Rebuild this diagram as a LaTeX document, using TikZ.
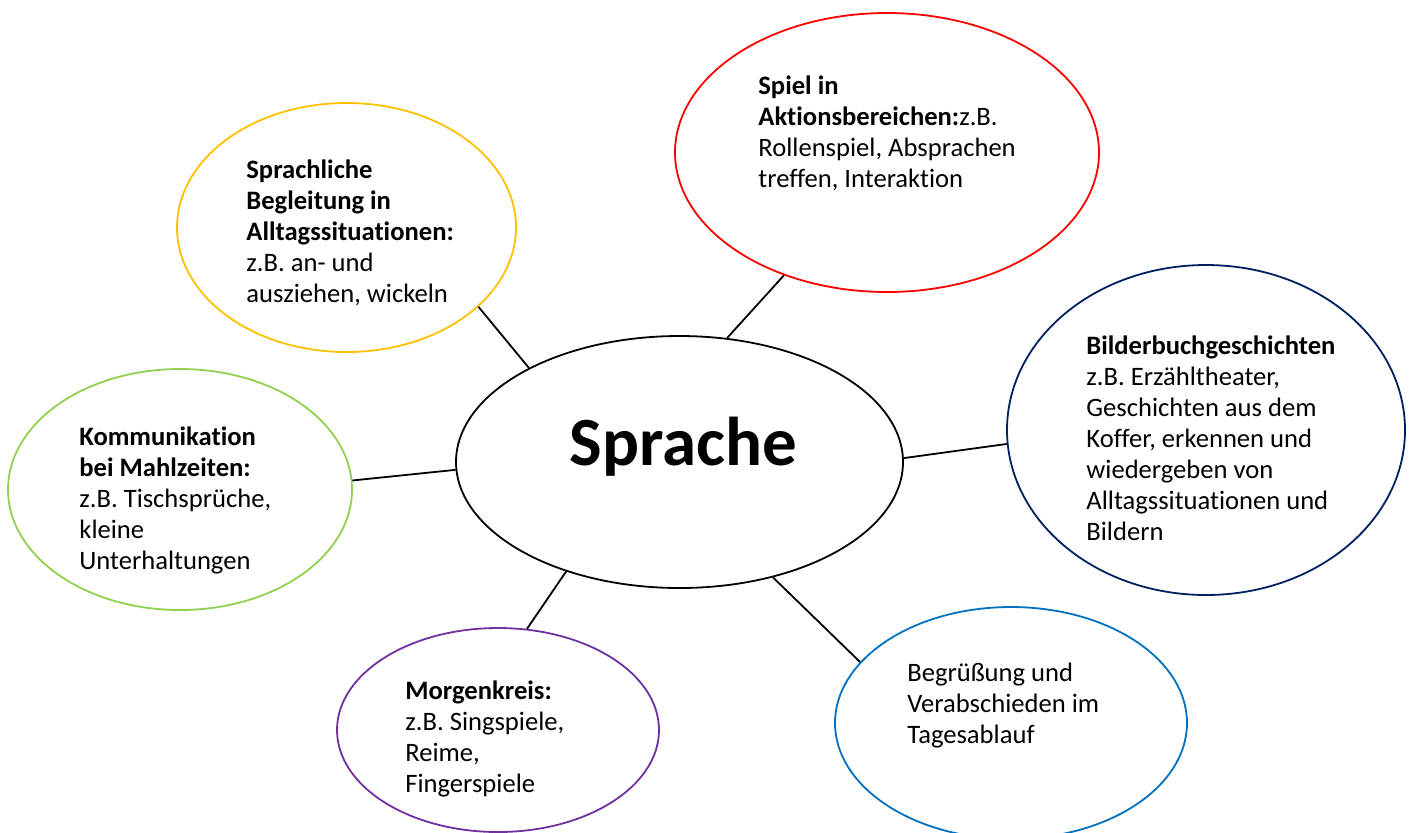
\documentclass[tikz,border=0pt]{standalone}
\usepackage{fontspec}
\setmainfont{Carlito}[Ligatures=NoCommon]
\usepackage{tikz}
\usetikzlibrary{shapes.geometric}
\definecolor{gelb}{HTML}{FFC000}
\definecolor{rot}{HTML}{FF0000}
\definecolor{dunkelblau}{HTML}{002060}
\definecolor{gruen}{HTML}{92D050}
\definecolor{lila}{HTML}{7030A0}
\definecolor{blau}{HTML}{0070C0}

\begin{document}
\begin{tikzpicture}[x=0.5pt, y=-0.5pt,
                    bubble/.style={ellipse, draw, line width=0.9pt, inner sep=0pt},
                    txt/.style={anchor=base west, align=left, inner sep=0pt,
                                font=\fontsize{13.3}{15.5}\selectfont},
                    every edge/.style={draw, line width=0.9pt}]
                \useasboundingbox (0,0) rectangle (1412,832);

                \node (sprache) [bubble, minimum width=223.5pt, minimum height=126pt] at (679.5,462) {};
                \node (alltag) [bubble, draw=gelb, minimum width=169.5pt, minimum height=124.5pt] at (346.5,227.5) {};
                \node (spiel) [bubble, draw=rot, minimum width=212pt, minimum height=139.5pt] at (887,152.5) {};
                \node (bilderbuch) [bubble, draw=dunkelblau, minimum width=199pt, minimum height=165pt] at (1206,430) {};
                \node (mahlzeit) [bubble, draw=gruen, minimum width=172pt, minimum height=120.5pt] at (180,489.5) {};
                \node (morgenkreis) [bubble, draw=lila, minimum width=161pt, minimum height=102pt] at (498,730) {};
                \node (begruessung) [bubble, draw=blau, minimum width=176pt, minimum height=116pt] at (1011,723) {};

                % base = baseline of the last line
                \node (t-sprache) [txt, font=\fontsize{34.5}{40}\selectfont\bfseries] at (569,465) {Sprache};
                \node (t-alltag) [txt] at (246,302) {\textbf{Sprachliche}\\ \textbf{Begleitung in}\\ \textbf{Alltagssituationen:}\\ z.B. an- und\\ ausziehen, wickeln};
                \node (t-spiel) [txt] at (758,187) {\textbf{Spiel in}\\ \textbf{Aktionsbereichen:}z.B.\\ Rollenspiel, Absprachen\\ treffen, Interaktion};
                \node (t-bilderbuch) [txt] at (1086,540) {\textbf{Bilderbuchgeschichten}\\ z.B. Erzähltheater,\\ Geschichten aus dem\\ Koffer, erkennen und\\ wiedergeben von\\ Alltagssituationen und\\ Bildern};
                \node (t-mahlzeit) [txt] at (79,569) {\textbf{Kommunikation}\\ \textbf{bei Mahlzeiten:}\\ z.B. Tischsprüche,\\ kleine\\ Unterhaltungen};
                \node (t-morgenkreis) [txt] at (405,792) {\textbf{Morgenkreis:}\\ z.B. Singspiele,\\ Reime,\\ Fingerspiele};
                \node (t-begruessung) [txt] at (907,743) {Begrüßung und\\ Verabschieden im\\ Tagesablauf};

                \path (sprache.148) edge (alltag.329);
                \path (sprache.69)  edge (spiel.230);
                \path (sprache.1)   edge (bilderbuch.184);
                \path (sprache.182) edge (mahlzeit.3);
                \path (sprache.224) edge (morgenkreis.74);
                \path (sprache.309) edge (begruessung.158);
            \end{tikzpicture}
\end{document}
